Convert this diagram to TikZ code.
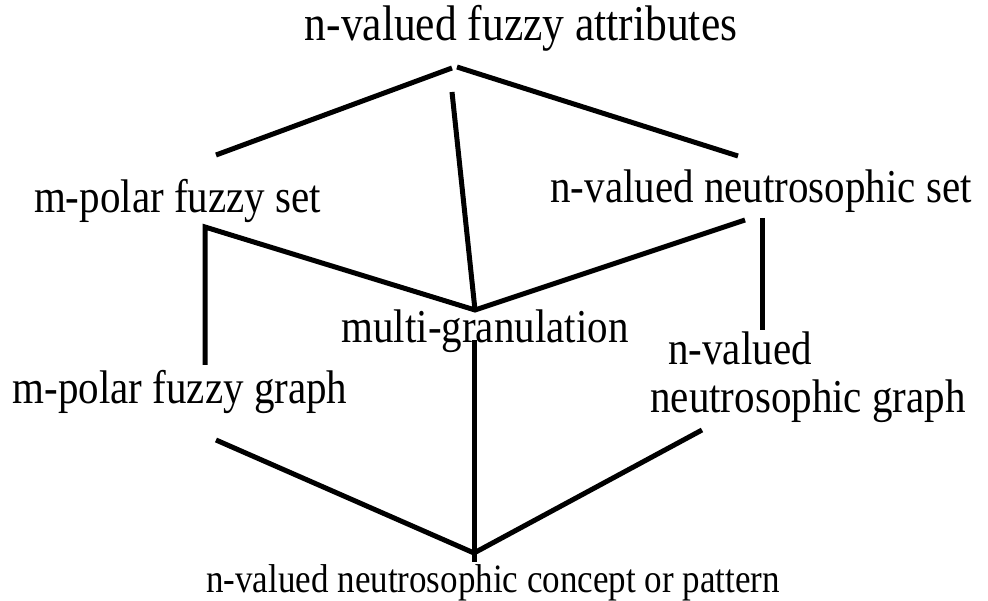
\documentclass[tikz,border=0pt]{standalone}
\usepackage{fontspec}
\usepackage{graphicx}
\setmainfont{Liberation Serif}
\newcommand{\tallt}[1]{\scalebox{1}[1.15]{#1}}
\begin{document}
\begin{tikzpicture}[x=1pt,y=-1pt,
  lbl/.style={anchor=base,inner sep=0pt,font=\fontsize{41}{48}\selectfont},
  edge/.style={line width=5pt,line cap=butt}]
\useasboundingbox (0,0) rectangle (988,601);
\node[lbl,font=\fontsize{43.5}{50}\selectfont] (top) at (521,41) {\tallt{n-valued fuzzy attributes}};
\node[lbl] (mset) at (177.5,213) {\tallt{m-polar fuzzy set}};
\node[lbl] (nset) at (761,203) {\tallt{n-valued neutrosophic set}};
\node[lbl] (multi) at (485,343) {\tallt{multi-granulation}};
\node[lbl] (mgraph) at (180,403) {\tallt{m-polar fuzzy graph}};
\node[lbl] (nval) at (740,365) {\tallt{n-valued}};
\node[lbl] (ngraph) at (808,413) {\tallt{neutrosophic graph}};
\node[lbl,font=\fontsize{35}{42}\selectfont] (bottom) at (493,592) {\tallt{n-valued neutrosophic concept or pattern}};
% free ends of connectors
\coordinate (apexl) at (452,68);
\coordinate (apexr) at (457,67);
\coordinate (l1) at (216,155);
\coordinate (r1) at (738,156);
\coordinate (mt) at (452,92);
\coordinate (mm) at (475,310);
\coordinate (lv1) at (205,227);
\coordinate (lv2) at (205,365);
\coordinate (rs) at (745,220);
\coordinate (rv1) at (762,218);
\coordinate (rv2) at (762,330);
\coordinate (mb1) at (474,340);
\coordinate (mb2) at (474,562);
\coordinate (vb) at (474,553);
\coordinate (bl) at (216,440);
\coordinate (br) at (702,430);
\draw[edge] (l1) -- (apexl);
\draw[edge] (apexr) -- (r1);
\draw[edge] (mt) -- (mm);
\draw[edge] (lv2) -- (lv1) -- (mm) -- (rs);
\draw[edge] (rv1) -- (rv2);
\draw[edge] (mb1) -- (mb2);
\draw[edge] (bl) -- (vb) -- (br);
\end{tikzpicture}
\end{document}
